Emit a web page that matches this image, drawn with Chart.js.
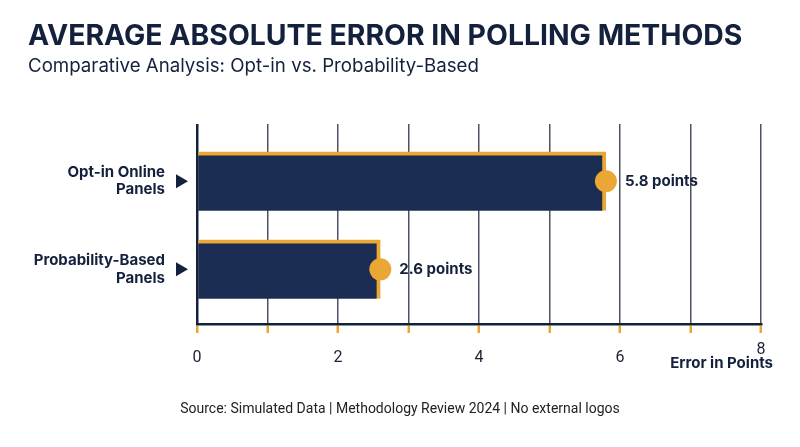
<!DOCTYPE html>
<html>
<head>
<meta charset="utf-8">
<script src="https://cdn.jsdelivr.net/npm/chart.js@4.4.0/dist/chart.umd.min.js"></script>
<style>
  html, body { margin: 0; padding: 0; background: #fff; }
  #wrap { position: relative; width: 800px; height: 447px; overflow: hidden; font-family: Roboto, sans-serif; }
  #wrap canvas { position: absolute; left: 0; top: 0; }
  .title { position: absolute; left: 28px; top: 17px; font-family: Inter, sans-serif; font-size: 28.4px; font-weight: 700; color: #14213d; white-space: nowrap; }
  .subtitle { position: absolute; left: 28px; top: 54px; font-family: Inter, sans-serif; font-size: 18.7px; color: #14213d; white-space: nowrap; }
  .footer { position: absolute; left: 0; width: 800px; top: 400px; text-align: center; font-size: 14px; color: #222; }
</style>
</head>
<body>
<div id="wrap">
  <canvas id="chart" width="800" height="447"></canvas>
  <div class="title">AVERAGE ABSOLUTE ERROR IN POLLING METHODS</div>
  <div class="subtitle">Comparative Analysis: Opt-in vs. Probability-Based</div>
  <div class="footer">Source: Simulated Data | Methodology Review 2024 | No external logos</div>
</div>
<script>
const categories = [['Opt-in Online', 'Panels'], ['Probability-Based', 'Panels']];
const errors = [5.8, 2.6];
const valueLabels = ['5.8 points', '2.6 points'];
const xTicks = [0, 2, 4, 6, 8];

const NAVY = '#14213d';
const BAR = '#1b2d52';
const GOLD = '#eaa735';

// circles at bar ends, value text, triangles by the labels, axis caption
const decorations = {
    id: 'decorations',
    afterDatasetsDraw(chart) {
        const ctx = chart.ctx;
        const xs = chart.scales.x, ys = chart.scales.y;
        ctx.save();
        errors.forEach((v, i) => {
            const x = xs.getPixelForValue(v);
            const y = ys.getPixelForValue(i);
            ctx.fillStyle = GOLD;
            ctx.beginPath();
            ctx.arc(x, y, 11, 0, Math.PI * 2);
            ctx.fill();
            ctx.fillStyle = NAVY;
            ctx.font = 'bold 15px Inter';
            ctx.textAlign = 'left';
            ctx.textBaseline = 'middle';
            ctx.fillText(valueLabels[i], x + 19, y);
            // triangle marker
            const tx = ys.right - 21;
            ctx.beginPath();
            ctx.moveTo(tx, y - 7);
            ctx.lineTo(tx + 12, y);
            ctx.lineTo(tx, y + 7);
            ctx.closePath();
            ctx.fill();
        });
        ctx.font = 'bold 15px Inter';
        ctx.textAlign = 'right';
        ctx.textBaseline = 'middle';
        ctx.fillStyle = NAVY;
        ctx.fillText('Error in Points', xs.right + 12, xs.bottom - 1);
        ctx.restore();
    }
};

new Chart(document.getElementById('chart'), {
    type: 'bar',
    data: {
        datasets: [{
            data: errors.map((v, i) => ({ x: v, y: i })),
            backgroundColor: BAR,
            borderColor: GOLD,
            borderWidth: { top: 4, right: 4, bottom: 0, left: 0 },
            borderSkipped: false,
            barThickness: 59
        }]
    },
    options: {
        indexAxis: 'y',
        responsive: false,
        animation: false,
        layout: { padding: { left: 0, top: 124, right: 39, bottom: 83 } },
        plugins: {
            legend: { display: false },
            tooltip: { enabled: false }
        },
        scales: {
            x: {
                type: 'linear',
                min: 0,
                max: 8,
                afterFit: (s) => { s.height = 40; },
                grid: {
                    color: (c) => c.tick && c.tick.value === 0 ? NAVY : '#4a5264',
                    lineWidth: (c) => c.tick && c.tick.value === 0 ? 2.5 : 1.5,
                    tickColor: GOLD,
                    tickWidth: 2.5,
                    tickLength: 9
                },
                border: { display: true, color: NAVY, width: 2.5 },
                ticks: {
                    stepSize: 1,
                    padding: 13,
                    color: '#1a2233',
                    font: { family: 'Roboto', size: 16, lineHeight: 0.5 },
                    callback: (v) => xTicks.includes(v) ? (v === 8 ? '8' : ['', String(v)]) : ''
                }
            },
            y: {
                type: 'linear',
                reverse: true,
                offset: false,
                min: -0.65,
                max: 1.62,
                afterFit: (s) => { s.width = 197; },
                grid: { display: false },
                border: { display: false },
                ticks: {
                    stepSize: 1,
                    padding: 24,
                    color: NAVY,
                    font: { family: 'Inter', size: 15, weight: 'bold', lineHeight: 1.15 },
                    callback: (v) => Number.isInteger(v) && categories[v] ? categories[v] : ''
                }
            }
        }
    },
    plugins: [decorations]
});
</script>
</body>
</html>
